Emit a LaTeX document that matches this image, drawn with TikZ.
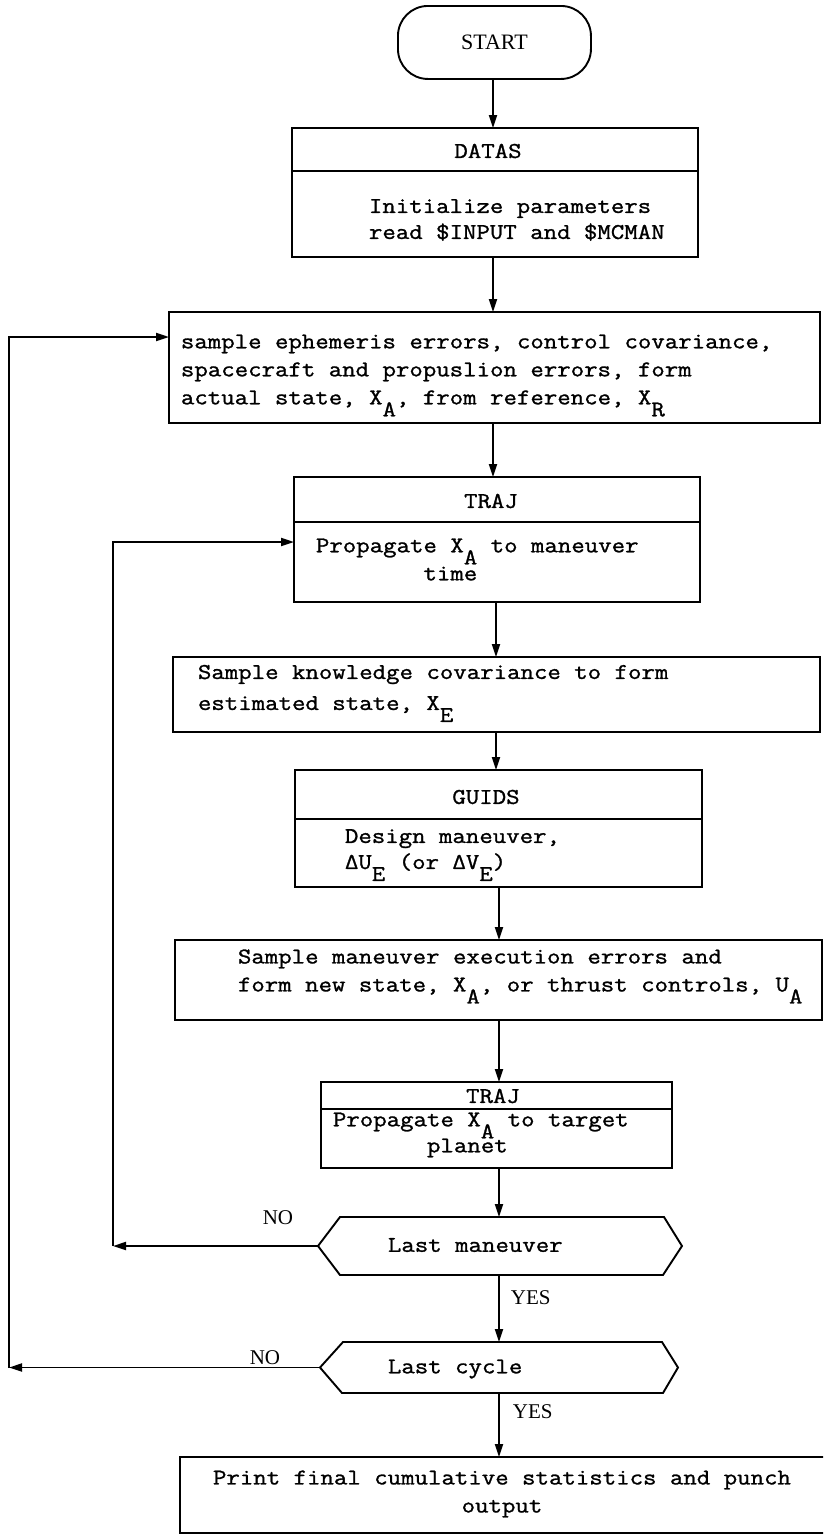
\documentclass[tikz,border=0pt]{standalone}
\usepackage{fontspec}
\setmonofont{Latin Modern Mono}[FakeStretch=1.16,FakeBold=1.2]
\newfontfamily\seriflabel{Liberation Serif}
\usetikzlibrary{arrows.meta,calc}
% typewriter-style subscript: same size, dropped half a line
\newcommand\lowsub[1]{\smash{\raisebox{-12pt}{#1}}}
\begin{document}
\begin{tikzpicture}[x=1pt,y=-1pt,
  line width=1.9pt,
  flowbox/.style={draw, rectangle, anchor=north west, inner sep=0pt, outer sep=0pt},
  frame/.style={draw=none, rectangle, anchor=north west, inner sep=0pt, outer sep=0pt},
  tw/.style={font=\ttfamily\fontsize{22.5}{28}\selectfont, inner sep=0pt, align=left},
  yn/.style={font=\seriflabel\fontsize{21}{24}\selectfont, inner sep=0pt},
  arr/.style={-{Triangle[length=13pt,width=8pt]}},
]
\useasboundingbox (0,0) rectangle (823,1535);
\clip (0,0) rectangle (823,1535);

% ---------- blocks ----------
\node[draw, rectangle, rounded corners=30pt, anchor=north west, inner sep=0pt,
      minimum width=193pt, minimum height=73pt,
      font=\seriflabel\fontsize{22}{26}\selectfont] (start) at (397,5) {START};

\node[flowbox, minimum width=406pt, minimum height=43pt] (datash) at (292,128) {};
\node[flowbox, minimum width=406pt, minimum height=86pt] (datasb) at (292,171) {};
\node[tw, anchor=center] at (488,151) {DATAS};
\node[tw, anchor=west] at (368,220) {Initialize parameters\\[-2pt]read \$INPUT and \$MCMAN};

\node[flowbox, minimum width=651pt, minimum height=111pt] (s1) at (169,312) {};
\node[tw, anchor=west] at (180,371) {sample ephemeris errors, control covariance,\\
spacecraft and propuslion errors, form\\
actual state, X\lowsub{A}, from reference, X\lowsub{R}};

\node[flowbox, minimum width=406pt, minimum height=45pt] (traj1h) at (294,477) {};
\node[flowbox, minimum width=406pt, minimum height=80pt] (traj1b) at (294,522) {};
\node[tw, anchor=center] at (491,501) {TRAJ};
\node[tw, anchor=west] at (315,562) {Propagate X\lowsub{A} to maneuver\\
\phantom{Propagat}time};

\node[flowbox, minimum width=647pt, minimum height=75pt] (sk) at (173,657) {};
\node[tw, anchor=west] at (197,689) {Sample knowledge covariance to form\\[3pt]
estimated state, X\lowsub{E}};

\node[flowbox, minimum width=407pt, minimum height=49pt] (guidsh) at (295,770) {};
\node[flowbox, minimum width=407pt, minimum height=68pt] (guidsb) at (295,819) {};
\node[tw, anchor=center] at (486,797) {GUIDS};
\node[tw, anchor=west] at (344,850) {Design maneuver,\\[-2pt]
ΔU\lowsub{E} (or ΔV\lowsub{E})};

\node[flowbox, minimum width=647pt, minimum height=80pt] (sm) at (175,940) {};
\node[tw, anchor=west] at (237,972) {Sample maneuver execution errors and\\
form new state, X\lowsub{A}, or thrust controls, U\lowsub{A}};

\node[flowbox, minimum width=351pt, minimum height=27pt] (traj2h) at (321,1082) {};
\node[flowbox, minimum width=351pt, minimum height=59pt] (traj2b) at (321,1109) {};
\node[tw, anchor=center] at (493,1096) {TRAJ};
\node[tw, anchor=west] at (332,1135) {Propagate X\lowsub{A} to target\\[-2pt]
\phantom{Propaga}planet};

% decision hexagons
\node[frame, minimum width=364pt, minimum height=58pt] (h1) at (318,1217) {};
\draw (h1.west) -- ([xshift=22pt]h1.north west) -- ([xshift=-18pt]h1.north east)
  -- (h1.east) -- ([xshift=-19pt]h1.south east) -- ([xshift=22pt]h1.south west) -- cycle;
\node[tw, anchor=west] at (387,1245) {Last maneuver};

\node[frame, minimum width=358pt, minimum height=51pt] (h2) at (320,1342) {};
\draw (h2.west) -- ([xshift=23pt]h2.north west) -- ([xshift=-16pt]h2.north east)
  -- (h2.east) -- ([xshift=-15pt]h2.south east) -- ([xshift=22pt]h2.south west) -- cycle;
\node[tw, anchor=west] at (387,1369) {Last cycle};

\node[flowbox, minimum width=680pt, minimum height=76pt] (final) at (180,1457) {};
\node[tw, align=center, anchor=center] at (502,1494) {Print final cumulative statistics and punch\\output};

% ---------- main flow ----------
\coordinate (spa) at (493,0);
\coordinate (spb) at (496,0);
\coordinate (spc) at (499,0);
\draw[arr] (start.south -| spa) -- (datash.north -| spa);
\draw[arr] (datasb.south -| spa) -- (s1.north -| spa);
\draw[arr] (s1.south -| spa) -- (traj1h.north -| spa);
\draw[arr] (traj1b.south -| spb) -- (sk.north -| spb);
\draw[arr] (sk.south -| spb) -- (guidsh.north -| spb);
\draw[arr] (guidsb.south -| spc) -- (sm.north -| spc);
\draw[arr] (sm.south -| spc) -- (traj2h.north -| spc);
\draw[arr] (traj2b.south -| spc) -- (h1.north -| spc);
\draw[arr] (h1.south -| spc) -- (h2.north -| spc);
\draw[arr] (h2.south -| spc) -- (final.north -| spc);
\node[yn, anchor=west] at (510,1298) {YES};
\node[yn, anchor=west] at (512,1412) {YES};

% ---------- loops ----------
\coordinate (in1) at (113,542);
\draw[arr] (h1.west) -- (h1.west -| in1);
\draw[arr] (h1.west -| in1) -- (in1) -- (in1 -| traj1b.west);
\node[yn] at (278,1218) {NO};

\coordinate (in2) at (9,337);
\draw[arr] (h2.west) -- (h2.west -| in2);
\draw[arr] (h2.west -| in2) -- (in2) -- (in2 -| s1.west);
\node[yn] at (265,1358) {NO};
\end{tikzpicture}
\end{document}
